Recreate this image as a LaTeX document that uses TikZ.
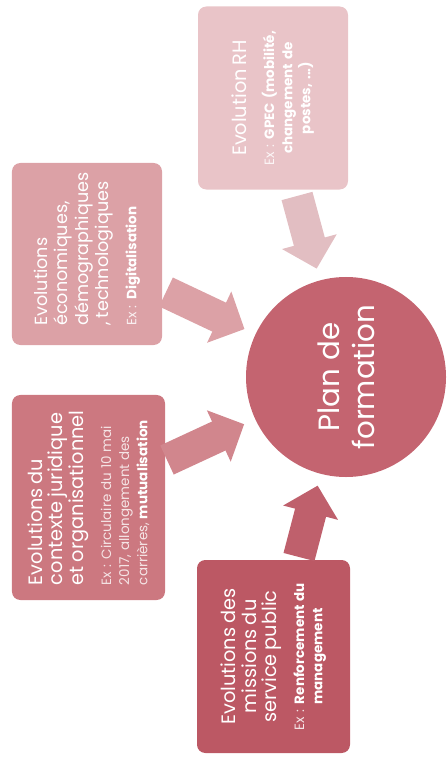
\documentclass[tikz,border=0pt]{standalone}
\usepackage{fontspec}
\setmainfont{Poppins}
\usetikzlibrary{arrows.meta}
\definecolor{rhcol}{HTML}{E9C4C8}
\definecolor{ecocol}{HTML}{DCA1A6}
\definecolor{ctxcol}{HTML}{CC7880}
\definecolor{miscol}{HTML}{BC5864}
\definecolor{plancol}{HTML}{C46470}
\newcommand\bigtxt{\fontsize{16.5}{17.5}\selectfont}
\newcommand\extxt{\fontsize{11.5}{15.5}\selectfont}

\begin{document}
\begin{tikzpicture}[x=0.03cm, y=-0.03cm,
    box/.style={rectangle, rounded corners=0.25cm, rotate=90, text=white, inner sep=0pt,
        execute at begin node={\hyphenpenalty=10000}},
    blk/.style={line width=0.96cm, -{Triangle[width=1.65cm,length=0.84cm]}, shorten >=0.36cm}]
        \useasboundingbox (0,0) rectangle (446,767);
        % Boxes
        \node[box, fill=rhcol, minimum width=5.49cm, minimum height=4.5cm, text width=5cm, align=center] (rh) at (273,98)
            {{\bigtxt Evolution RH\par}\vspace{8pt}
             {\extxt{\color{white!85!rhcol}Ex :} \textbf{GPEC (mobilité,}\\\textbf{changement de}\\\textbf{postes, ...)}\par}};
        \node[box, fill=ecocol, minimum width=5.46cm, minimum height=4.5cm, text width=4.3cm, align=left] (eco) at (87,254)
            {{\fontsize{15}{17.5}\selectfont Evolutions\\économiques,\\démographiques\\,~technologiques\par}\vspace{8pt}
             {\extxt{\color{white!85!ecocol}Ex :} \textbf{Digitalisation}\par}};
        \node[box, fill=ctxcol, minimum width=6.15cm, minimum height=4.59cm, text width=5.25cm, align=left] (ctx) at (88.5,497.5)
            {{\bigtxt Evolutions du\\contexte juridique\\et organisationnel\par}\vspace{8pt}
             {\extxt\color{white!80!ctxcol} Ex : Circulaire du 10 mai\\2017, allongement des\\carrières, {\color{white}\textbf{mutualisation}}\par}};
        \node[box, fill=miscol, minimum width=5.79cm, minimum height=4.59cm, text width=5cm, align=center] (mis) at (273.5,656.5)
            {{\bigtxt Evolutions des\\missions du\\service public\par}\vspace{8pt}
             {\extxt{\color{white!85!miscol}Ex :} \textbf{Renforcement du}\\\textbf{management}\par}};
        % Centre
        \node[circle, fill=plancol, minimum size=6cm, rotate=90, text=white, align=center,
            font=\fontsize{25}{30}\selectfont] (plan) at (346,377) {Plan de\\formation};
        % Arrows
        \coordinate (s1) at (297,196);
        \coordinate (s2) at (166,292);
        \coordinate (s3) at (167,460);
        \coordinate (s4) at (299,557);
        \draw[blk, rhcol!97!black] (s1) -- (plan);
        \draw[blk, ecocol] (s2) -- (plan);
        \draw[blk, ctxcol!90!white] (s3) -- (plan);
        \draw[blk, miscol!95!white] (s4) -- (plan);
    \end{tikzpicture}
\end{document}
